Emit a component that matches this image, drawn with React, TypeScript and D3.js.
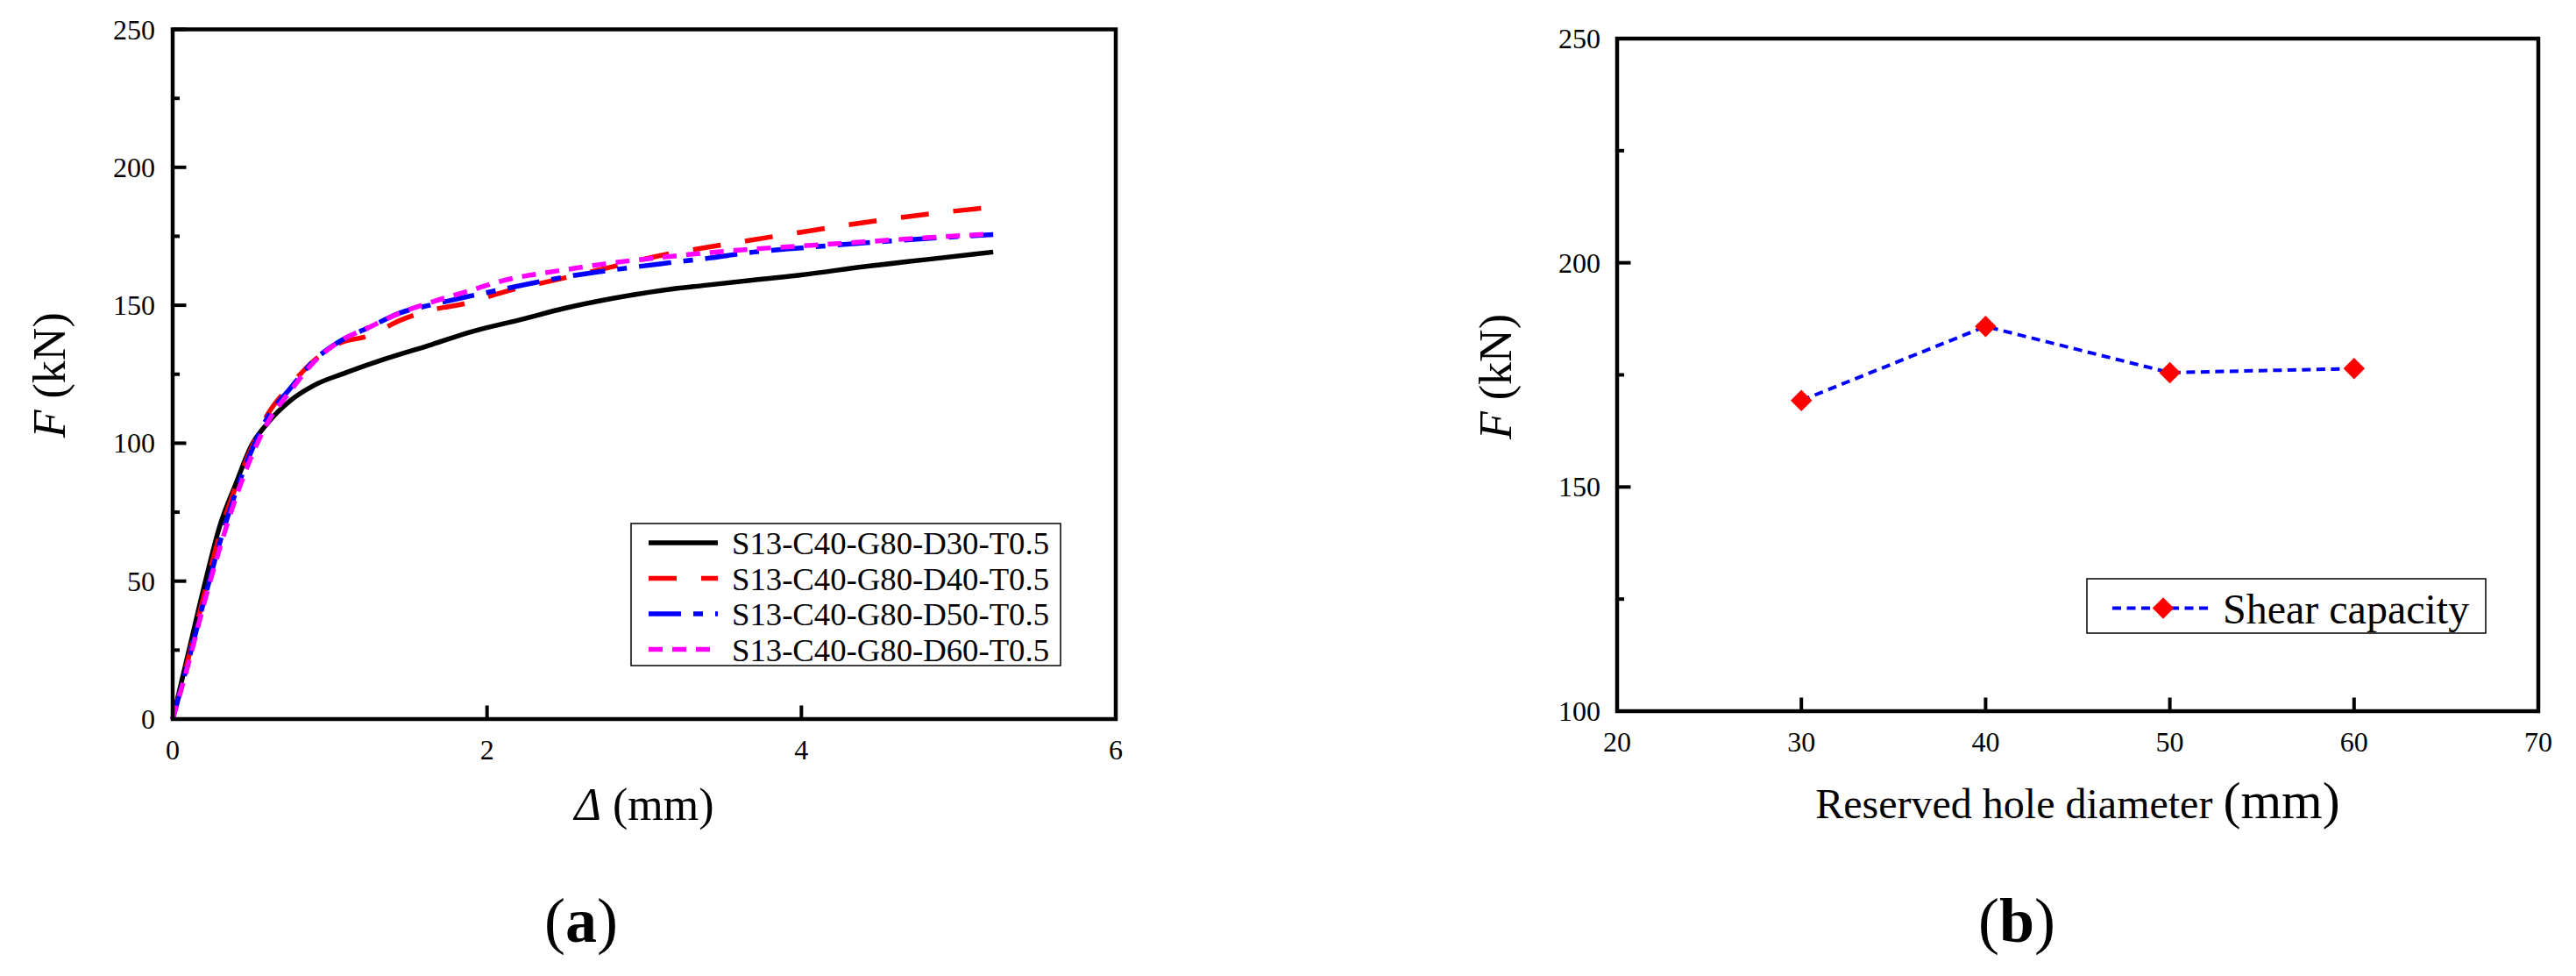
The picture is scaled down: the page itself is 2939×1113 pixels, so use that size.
import React from "react";
import * as d3 from "d3";

// ---------- Data (a) ----------
const seriesNames = [
  "S13-C40-G80-D30-T0.5",
  "S13-C40-G80-D40-T0.5",
  "S13-C40-G80-D50-T0.5",
  "S13-C40-G80-D60-T0.5",
];
const deltaD30 = [0, 0.1, 0.2, 0.3, 0.4, 0.5, 0.6, 0.75, 0.9, 1.1, 1.35, 1.65, 1.9, 2.2, 2.5, 2.8, 3.1, 3.4, 3.7, 4.0, 4.4, 4.8, 5.22];
const forceD30 = [0, 24, 48, 70, 85, 99, 107, 115.5, 121, 125.5, 130.5, 135.8, 140.4, 144.6, 149, 152.5, 155.3, 157.3, 159.2, 161, 164, 166.6, 169.3];
const deltaDash = [0, 0.1, 0.2, 0.3, 0.4, 0.5, 0.6, 0.75, 0.9, 1.05, 1.25, 1.45, 1.65, 1.85, 2.1, 2.5, 2.8, 3.1, 3.4, 3.7, 4.0, 4.4, 4.8, 5.22];
const forceD40 = [0, 22, 45, 67, 84, 98, 110, 121, 130, 136, 139, 144.6, 148.3, 150.5, 154.7, 160, 164, 168, 171, 173.8, 176.5, 180, 183, 185.6];
const forceD50 = [0, 21, 43, 64, 82, 97, 109, 120, 130, 136.5, 142, 147.3, 150.2, 152.8, 155.8, 160.3, 162.8, 165, 167, 169.3, 170.8, 172.6, 174.2, 175.6];
const forceD60 = [0, 20, 42, 62, 80, 95, 107, 119, 129.5, 136.5, 142, 147.3, 151.2, 154.6, 158.9, 162.9, 165.4, 167.3, 169, 170.4, 171.5, 173, 174.5, 175.9];
const xTicksA = [0, 2, 4, 6];
const yTicksA = [0, 50, 100, 150, 200, 250];
const yMinorA = [25, 75, 125, 175, 225];

// ---------- Data (b) ----------
const holeDiameters = [30, 40, 50, 60];
const shearCapacity = [169.3, 185.8, 175.5, 176.4];
const xTicksB = [20, 30, 40, 50, 60, 70];
const yTicksB = [100, 150, 200, 250];
const yMinorB = [125, 175, 225];

const colors = ["#000000", "#ff0000", "#0000ff", "#ff00ff"];
const dashes = ["none", "32,28", "37,14,11,14", "16,11"];

const serif = "'Liberation Serif', 'Times New Roman', serif";

export default function App() {
  // scales
  const xA = d3.scaleLinear().domain([0, 6]).range([197, 1273]);
  const yA = d3.scaleLinear().domain([0, 250]).range([820, 33.5]);
  const xB = d3.scaleLinear().domain([20, 70]).range([1845, 2896]);
  const yB = d3.scaleLinear().domain([100, 250]).range([811, 44]);

  const dataA = [
    deltaD30.map((d, i) => [d, forceD30[i]]),
    deltaDash.map((d, i) => [d, forceD40[i]]),
    deltaDash.map((d, i) => [d, forceD50[i]]),
    deltaDash.map((d, i) => [d, forceD60[i]]),
  ] as [number, number][][];

  const lineA = d3
    .line<[number, number]>()
    .x((d) => xA(d[0]))
    .y((d) => yA(d[1]))
    .curve(d3.curveMonotoneX);

  const dataB = holeDiameters.map((d, i) => [d, shearCapacity[i]]) as [number, number][];
  const lineB = d3
    .line<[number, number]>()
    .x((d) => xB(d[0]))
    .y((d) => yB(d[1]));

  const diamond = d3.symbol().type(d3.symbolSquare).size(300)();

  const axisW = 4.5;
  const majorLen = 15.5;
  const minorLen = 8;

  return (
    <svg
      width={2939}
      height={1113}
      style={{ position: "absolute", left: 0, top: 0, background: "#fff" }}
      fontFamily={serif}
    >
      <rect x={0} y={0} width={2939} height={1113} fill="#fff" />

      {/* ================= (a) ================= */}
      {/* curves */}
      {dataA.map((d, i) => (
        <path
          key={i}
          d={lineA(d) || ""}
          fill="none"
          stroke={colors[i]}
          strokeWidth={5.5}
          strokeDasharray={dashes[i]}
          strokeLinecap="butt"
          strokeLinejoin="round"
        />
      ))}
      {/* frame */}
      <rect
        x={xA(0)}
        y={yA(250)}
        width={xA(6) - xA(0)}
        height={yA(0) - yA(250)}
        fill="none"
        stroke="#000"
        strokeWidth={axisW}
      />
      {/* y ticks */}
      {yTicksA.map((t) => (
        <g key={"ya" + t}>
          <line x1={xA(0)} x2={xA(0) + majorLen} y1={yA(t)} y2={yA(t)} stroke="#000" strokeWidth={4} />
          <text x={xA(0) - 20} y={yA(t) + 11} textAnchor="end" fontSize={32}>
            {t}
          </text>
        </g>
      ))}
      {yMinorA.map((t) => (
        <line key={"yma" + t} x1={xA(0)} x2={xA(0) + minorLen} y1={yA(t)} y2={yA(t)} stroke="#000" strokeWidth={4} />
      ))}
      {/* x ticks */}
      {xTicksA.map((t) => (
        <g key={"xa" + t}>
          <line x1={xA(t)} x2={xA(t)} y1={yA(0)} y2={yA(0) - majorLen} stroke="#000" strokeWidth={4} />
          <text x={xA(t)} y={yA(0) + 46} textAnchor="middle" fontSize={32}>
            {t}
          </text>
        </g>
      ))}
      {/* axis titles */}
      <text transform={`translate(74, ${(yA(0) + yA(250)) / 2 + 1}) rotate(-90)`} textAnchor="middle" fontSize={52}>
        <tspan fontStyle="italic">F</tspan> (kN)
      </text>
      <text x={(xA(0) + xA(6)) / 2} y={935} textAnchor="middle" fontSize={52}>
        <tspan fontStyle="italic">Δ</tspan> (mm)
      </text>
      <text x={663} y={1074} textAnchor="middle" fontSize={72}>
        (<tspan fontWeight="bold">a</tspan>)
      </text>

      {/* legend (a) */}
      <rect x={720} y={597} width={490} height={162} fill="#fff" stroke="#000" strokeWidth={1.5} />
      {seriesNames.map((n, i) => {
        const cy = 619 + i * 40.5;
        return (
          <g key={"lg" + i}>
            <line
              x1={740}
              x2={819}
              y1={cy}
              y2={cy}
              stroke={colors[i]}
              strokeWidth={5.5}
              strokeDasharray={dashes[i]}
            />
            <text x={835} y={cy + 13} fontSize={36} textLength={362} lengthAdjust="spacingAndGlyphs">
              {n}
            </text>
          </g>
        );
      })}

      {/* ================= (b) ================= */}
      <path d={lineB(dataB) || ""} fill="none" stroke="#0000ff" strokeWidth={4} strokeDasharray="10,6.5" />
      {dataB.map((d, i) => (
        <path
          key={"m" + i}
          d={diamond || ""}
          transform={`translate(${xB(d[0])},${yB(d[1])}) rotate(45)`}
          fill="#ff0000"
        />
      ))}
      <rect
        x={xB(20)}
        y={yB(250)}
        width={xB(70) - xB(20)}
        height={yB(100) - yB(250)}
        fill="none"
        stroke="#000"
        strokeWidth={axisW}
      />
      {yTicksB.map((t) => (
        <g key={"yb" + t}>
          <line x1={xB(20)} x2={xB(20) + majorLen} y1={yB(t)} y2={yB(t)} stroke="#000" strokeWidth={4} />
          <text x={xB(20) - 19} y={yB(t) + 11} textAnchor="end" fontSize={32}>
            {t}
          </text>
        </g>
      ))}
      {yMinorB.map((t) => (
        <line key={"ymb" + t} x1={xB(20)} x2={xB(20) + minorLen} y1={yB(t)} y2={yB(t)} stroke="#000" strokeWidth={4} />
      ))}
      {xTicksB.map((t) => (
        <g key={"xb" + t}>
          <line x1={xB(t)} x2={xB(t)} y1={yB(100)} y2={yB(100) - majorLen} stroke="#000" strokeWidth={4} />
          <text x={xB(t)} y={yB(100) + 46} textAnchor="middle" fontSize={32}>
            {t}
          </text>
        </g>
      ))}
      <text transform={`translate(1724, ${(yB(100) + yB(250)) / 2 + 2}) rotate(-90)`} textAnchor="middle" fontSize={52}>
        <tspan fontStyle="italic">F</tspan> (kN)
      </text>
      <text x={(xB(20) + xB(70)) / 2} y={933} textAnchor="middle">
        <tspan fontSize={48}>Reserved hole diameter </tspan>
        <tspan fontSize={60}>(mm)</tspan>
      </text>
      <text x={2301} y={1074} textAnchor="middle" fontSize={72}>
        (<tspan fontWeight="bold">b</tspan>)
      </text>

      {/* legend (b) */}
      <rect x={2381} y={660} width={455} height={62} fill="#fff" stroke="#000" strokeWidth={1.5} />
      <line x1={2410} x2={2525} y1={693.5} y2={693.5} stroke="#0000ff" strokeWidth={4} strokeDasharray="10,6.5" />
      <path d={diamond || ""} transform={`translate(2468,693.5) rotate(45)`} fill="#ff0000" />
      <text x={2536} y={711} fontSize={48}>
        Shear capacity
      </text>
    </svg>
  );
}
